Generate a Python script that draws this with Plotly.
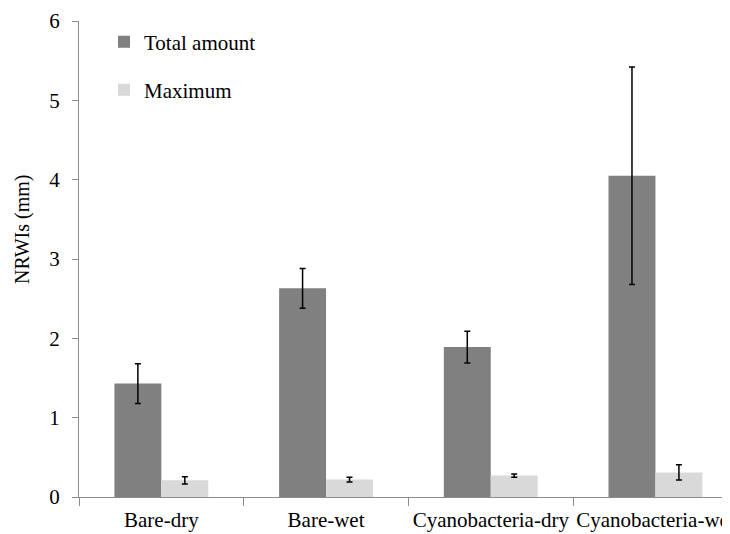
import plotly.graph_objects as go

categories = ["Bare-dry", "Bare-wet", "Cyanobacteria-dry", "Cyanobacteria-wet"]
total_amount = [1.43, 2.63, 1.89, 4.05]
total_err = [0.25, 0.25, 0.20, 1.37]
maximum = [0.21, 0.22, 0.27, 0.31]
maximum_err = [0.045, 0.03, 0.02, 0.095]
y_ticks = [0, 1, 2, 3, 4, 5, 6]

FONT = "Liberation Serif"
FS = 21

fig = go.Figure()
fig.add_trace(go.Bar(
    name="Total amount", x=categories, y=total_amount,
    marker=dict(color="#808080", line=dict(width=0)),
    error_y=dict(type="data", array=total_err, color="black", thickness=1.5, width=3),
    legend="legend",
))
fig.add_trace(go.Bar(
    name="Maximum", x=categories, y=maximum,
    marker=dict(color="#d9d9d9", line=dict(width=0)),
    error_y=dict(type="data", array=maximum_err, color="black", thickness=1.5, width=3),
    legend="legend2",
))

# page body has an 8px margin; work in window pixels and convert
OFF = 8
W, H = 730 - OFF, 534 - OFF
L, R, T, B = 79 - OFF, 0, 21 - OFF, 534 - 497
pw = W - L - R
ph = H - T - B

def px_x(px):
    return (px - OFF - L) / pw

def px_y(py):
    return (H - B - (py - OFF)) / ph

fig.update_layout(
    width=W, height=H,
    margin=dict(l=L, r=R, t=T, b=B, pad=0, autoexpand=False),
    paper_bgcolor="white", plot_bgcolor="white",
    font=dict(family=FONT, size=FS, color="black"),
    barmode="group", bargap=0.43, bargroupgap=0,
    showlegend=True,
    legend=dict(x=px_x(104), y=px_y(42), xanchor="left", yanchor="middle",
                bgcolor="rgba(0,0,0,0)", font=dict(size=FS, family=FONT), itemwidth=30),
    legend2=dict(x=px_x(104), y=px_y(90), xanchor="left", yanchor="middle",
                 bgcolor="rgba(0,0,0,0)", font=dict(size=FS, family=FONT), itemwidth=30),
    xaxis=dict(
        range=[-0.5, -0.5 + pw / 164.7],
        showline=True, linecolor="#8c8c8c", linewidth=1,
        ticks="outside", ticklen=8, tickcolor="#8c8c8c", tickson="boundaries",
        showgrid=False, zeroline=False, tickangle=0, automargin=False,
        tickfont=dict(size=FS, family=FONT), ticklabelstandoff=4,
    ),
    yaxis=dict(
        range=[0, 6], tickvals=y_ticks,
        showline=True, linecolor="#8c8c8c", linewidth=1,
        ticks="outside", ticklen=6, tickcolor="#8c8c8c",
        showgrid=False, zeroline=False, automargin=False,
        tickfont=dict(size=FS, family=FONT), ticklabelstandoff=8,
    ),
    annotations=[dict(
        text="NRWIs (mm)", textangle=-90, xref="paper", yref="paper",
        x=px_x(22), y=px_y(230), xanchor="center", yanchor="middle",
        showarrow=False, font=dict(size=20, family=FONT),
    )],
)

fig.write_html("out.html")
